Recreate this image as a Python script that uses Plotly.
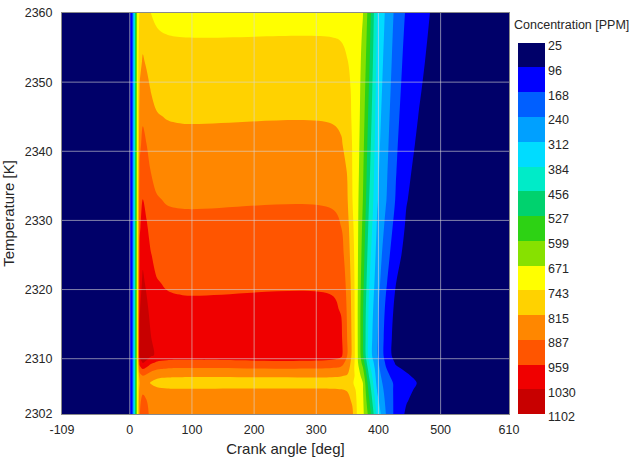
import plotly.graph_objects as go

# Grid of the NOx field: crank angle columns (deg) and temperature rows (K)
crank_angle = [-109, -3, 4, 12, 16, 21, 27, 34, 44, 60, 85, 325, 340, 350, 358,
               366, 375, 385, 398, 412, 428, 445, 465, 490, 610]
temperature = [2302, 2304, 2305.5, 2306.5, 2307.5, 2308.5, 2309.5, 2310.5, 2313,
               2317, 2321, 2325, 2329, 2333, 2337, 2341, 2345, 2349, 2353, 2357, 2360]

# Concentration [PPM], one row per temperature
concentration = [
    [25, 25, 165, 690, 885, 910, 896, 877, 863, 857, 855, 855, 852, 845, 828, 734, 687, 574, 362, 240, 144, 85, 55, 35, 25],
    [25, 25, 165, 690, 877, 900, 887, 869, 856, 850, 848, 848, 843, 835, 805, 730, 682, 534, 330, 226, 148, 102, 70, 46, 25],
    [25, 25, 165, 690, 851, 875, 862, 843, 830, 824, 822, 822, 818, 810, 782, 722, 675, 503, 306, 215, 151, 115, 82, 54, 25],
    [25, 25, 165, 690, 822, 860, 839, 809, 788, 778, 775, 775, 772, 766, 752, 712, 671, 480, 288, 207, 153, 125, 91, 60, 25],
    [25, 25, 165, 690, 857, 885, 870, 848, 832, 825, 823, 823, 818, 806, 770, 710, 645, 450, 277, 192, 133, 107, 78, 53, 25],
    [25, 25, 165, 690, 923, 960, 940, 911, 890, 881, 878, 878, 868, 845, 770, 700, 610, 417, 267, 174, 110, 86, 64, 46, 25],
    [25, 25, 165, 690, 993, 1040, 1014, 977, 951, 939, 935, 935, 920, 860, 790, 685, 570, 383, 256, 157, 87, 65, 49, 38, 25],
    [25, 25, 165, 690, 1055, 1095, 1073, 1041, 1019, 1009, 1005, 1005, 975, 885, 800, 685, 540, 350, 245, 140, 65, 45, 35, 30, 25],
    [25, 25, 165, 690, 1047, 1090, 1066, 1032, 1008, 998, 994, 994, 972, 883, 800, 683, 533, 354, 247, 142, 66, 45, 35, 30, 25],
    [25, 25, 165, 690, 1025, 1070, 1045, 1011, 986, 975, 971, 971, 955, 877, 795, 682, 535, 367, 256, 155, 77, 50, 39, 32, 25],
    [25, 25, 165, 690, 1000, 1043, 1019, 986, 962, 952, 948, 948, 932, 868, 788, 684, 551, 389, 272, 178, 98, 63, 47, 35, 25],
    [25, 25, 165, 690, 975, 1015, 993, 961, 939, 929, 925, 925, 910, 855, 775, 686, 567, 411, 287, 200, 120, 76, 55, 39, 25],
    [25, 25, 165, 690, 949, 987, 966, 936, 915, 905, 902, 902, 887, 840, 760, 688, 583, 434, 303, 223, 142, 88, 62, 42, 25],
    [25, 25, 165, 690, 924, 960, 940, 911, 891, 882, 879, 879, 865, 820, 745, 690, 599, 456, 319, 245, 163, 100, 70, 45, 25],
    [25, 25, 165, 690, 897, 932, 913, 886, 867, 858, 855, 855, 843, 812, 742, 696, 610, 473, 328, 253, 172, 109, 78, 51, 25],
    [25, 25, 165, 690, 872, 905, 887, 861, 843, 835, 832, 832, 822, 790, 740, 700, 621, 489, 336, 262, 180, 118, 87, 57, 25],
    [25, 25, 165, 690, 846, 877, 860, 836, 819, 812, 809, 809, 800, 772, 735, 703, 632, 506, 345, 270, 189, 127, 95, 63, 25],
    [25, 25, 165, 690, 821, 850, 834, 812, 796, 789, 786, 786, 780, 760, 734, 702, 643, 522, 354, 279, 198, 136, 103, 69, 25],
    [25, 25, 165, 690, 795, 822, 807, 787, 772, 765, 763, 763, 758, 745, 724, 700, 654, 539, 363, 287, 207, 144, 111, 75, 25],
    [25, 25, 165, 690, 770, 794, 780, 762, 748, 742, 740, 740, 737, 729, 716, 698, 665, 556, 371, 296, 215, 153, 120, 80, 25],
    [25, 25, 165, 690, 751, 774, 761, 743, 731, 725, 723, 723, 720, 714, 704, 692, 673, 568, 378, 302, 222, 160, 126, 85, 25],
]

# Contour levels as labelled on the colour bar
level_labels = [25, 96, 168, 240, 312, 384, 456, 527, 599, 671, 743, 815, 887, 959, 1030, 1102]
band_colors = [
    "rgb(0,0,105)", "rgb(0,0,255)", "rgb(0,95,255)", "rgb(0,160,255)", "rgb(0,220,255)",
    "rgb(0,235,200)", "rgb(0,210,110)", "rgb(45,210,20)", "rgb(135,225,0)", "rgb(255,255,0)",
    "rgb(255,210,0)", "rgb(255,135,0)", "rgb(255,85,0)", "rgb(240,0,0)", "rgb(200,0,0)",
]

x_ticks = [-109, 0, 100, 200, 300, 400, 500, 610]
x_tick_text = ["-109", "0", "100", "200", "300", "400", "500", "610"]
y_ticks = [2302, 2310, 2320, 2330, 2340, 2350, 2360]
x_grid = [0, 100, 200, 300, 400, 500]
y_grid = [2310, 2320, 2330, 2340, 2350]

n_bands = len(band_colors)
step = (level_labels[-1] - level_labels[0]) / n_bands
colorscale = []
for i, c in enumerate(band_colors):
    colorscale += [[i / n_bands, c], [(i + 1) / n_bands, c]]

font_family = "Liberation Sans, Arial, sans-serif"
text_color = "#262626"

fig = go.Figure()

fig.add_trace(go.Contour(
    x=crank_angle, y=temperature, z=concentration,
    autocontour=False,
    contours=dict(start=level_labels[0] + step, end=level_labels[-1] - step / 2,
                  size=step, coloring="fill", showlines=False),
    line=dict(width=0, smoothing=1),
    colorscale=colorscale, showscale=False, hoverinfo="skip",
))

# Discrete colour bar drawn as a one-column heatmap
band_mid = [(a + b) / 2 for a, b in zip(level_labels[:-1], level_labels[1:])]
fig.add_trace(go.Heatmap(
    x=[0, 1], y=level_labels, z=[[m] for m in band_mid],
    colorscale=colorscale, zmin=level_labels[0], zmax=level_labels[-1],
    showscale=False, hoverinfo="skip", xaxis="x2", yaxis="y2",
))

# Grid lines over the filled contours
shapes = []
for gx in x_grid:
    shapes.append(dict(type="line", xref="x", yref="y", x0=gx, x1=gx, y0=2302, y1=2360,
                       line=dict(color="rgba(215,215,215,0.6)", width=1), layer="above"))
for gy in y_grid:
    shapes.append(dict(type="line", xref="x", yref="y", x0=-109, x1=610, y0=gy, y1=gy,
                       line=dict(color="rgba(215,215,215,0.6)", width=1), layer="above"))

fig.update_layout(
    width=632, height=457,
    margin=dict(l=62, r=40, t=13, b=43),
    paper_bgcolor="white", plot_bgcolor="white",
    font=dict(family=font_family, size=12.5, color=text_color),
    showlegend=False,
    shapes=shapes,
    xaxis=dict(
        domain=[0, 0.8434], range=[-109, 610], tickvals=x_ticks, ticktext=x_tick_text,
        ticks="", showgrid=False, zeroline=False, showline=True, mirror=True,
        linecolor="#8a8a8a", linewidth=1, ticklabelstandoff=4,
        title=dict(text="Crank angle [deg]", standoff=10), automargin=False,
    ),
    yaxis=dict(
        range=[2302, 2360], tickvals=y_ticks, ticks="",
        showgrid=False, zeroline=False, showline=True, mirror=True,
        linecolor="#8a8a8a", linewidth=1, ticklabelstandoff=6,
        title=dict(text="Temperature [K]", standoff=6), automargin=False,
    ),
    xaxis2=dict(domain=[0.8604, 0.9113], anchor="y2", range=[0, 1], visible=False),
    yaxis2=dict(
        domain=[0, 0.9252], anchor="x2", side="right",
        range=[level_labels[-1], level_labels[0]], tickvals=level_labels,
        ticks="", showgrid=False, zeroline=False, showline=False,
        ticklabelstandoff=2, ticklabelshift=-3, automargin=False,
    ),
    annotations=[dict(
        text="Concentration [PPM]", xref="paper", yref="paper",
        x=0.9613, y=0.970, xanchor="center", yanchor="middle", showarrow=False,
        font=dict(family=font_family, size=12.5, color=text_color),
    )],
)

fig.write_html("out.html")
